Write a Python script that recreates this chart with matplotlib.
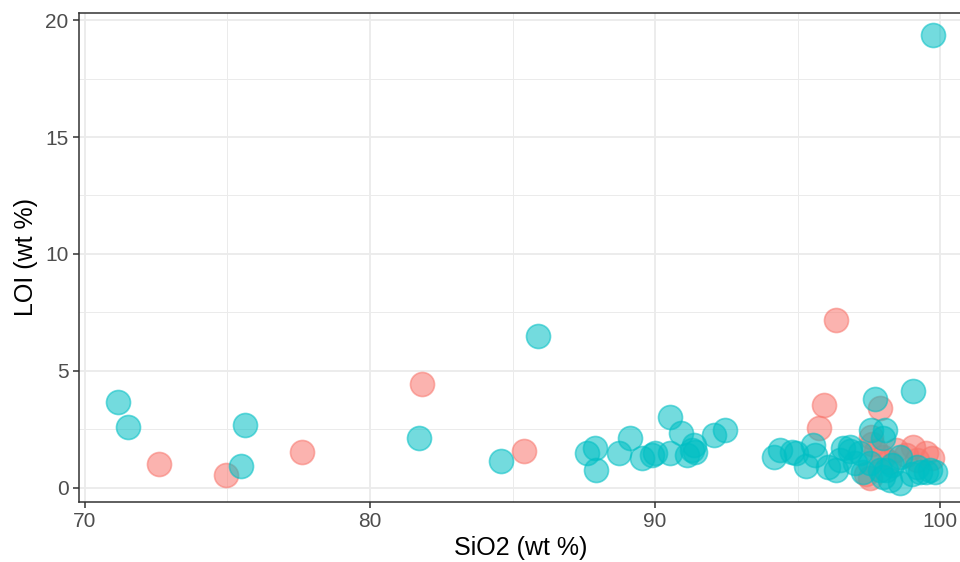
import matplotlib.pyplot as plt
import numpy as np

plt.rcParams['font.family'] = ['Liberation Sans', 'DejaVu Sans']

# grupo 1 (vermelho)
x_red = [72.6, 74.93, 77.6, 81.83, 85.42, 96.34, 95.92, 95.75, 97.89, 97.57,
         97.54, 98.45, 99.05, 99.51, 97.99, 97.75, 99.7, 98.8, 97.4, 98.2,
         99.2, 97.6]
y_red = [1.03, 0.56, 1.54, 4.44, 1.58, 7.18, 3.55, 2.56, 3.42, 2.18,
         0.43, 1.62, 1.75, 1.5, 1.32, 1.6, 1.3, 1.4, 0.6, 1.1,
         1.2, 1.9]

# grupo 2 (ciano)
x_cyan = [99.75, 85.88, 71.16, 71.51, 75.63, 75.46, 81.73, 84.58, 99.05, 97.71,
          90.53, 87.6, 87.89, 87.92, 88.73, 89.12, 89.54, 89.9, 90.0, 90.53,
          90.92, 91.13, 91.3, 91.41, 91.37, 92.08, 92.46, 94.19, 94.4, 94.82,
          94.93, 95.53, 95.63, 95.28, 96.06, 96.34, 96.58, 96.83, 97.0, 97.29,
          97.57, 98.06, 97.99, 98.1, 98.24, 98.59, 98.59, 99.3, 99.65, 99.82,
          99.2, 96.83, 97.54, 97.89, 97.99, 96.5, 97.2, 98.3, 99.0, 99.5]
y_cyan = [19.36, 6.5, 3.68, 2.6, 2.7, 0.94, 2.14, 1.15, 4.15, 3.8,
          3.03, 1.5, 1.7, 0.77, 1.5, 2.14, 1.28, 1.41, 1.5, 1.5,
          2.35, 1.41, 1.62, 1.54, 1.84, 2.26, 2.48, 1.32, 1.62, 1.54,
          1.5, 1.84, 1.41, 0.94, 0.9, 0.77, 1.7, 1.75, 1.07, 0.68,
          2.48, 2.48, 2.14, 0.77, 0.34, 0.21, 1.32, 0.68, 0.77, 0.68,
          0.9, 1.6, 1.07, 0.77, 0.47, 1.2, 1.5, 1.0, 0.6, 0.7]

fig = plt.figure(figsize=(9.6, 5.62), dpi=100)
ax = fig.add_axes([79 / 960, 1 - 502 / 562, 883 / 960, 489 / 562])

ax.scatter(x_red, y_red, s=300, color='#F8766D', alpha=0.55, edgecolors='#F8766D',
           linewidths=1.2, zorder=3)
ax.scatter(x_cyan, y_cyan, s=300, color='#00BFC4', alpha=0.55, edgecolors='#00BFC4',
           linewidths=1.2, zorder=3)

ax.set_xlim(69.79, 100.77)
ax.set_ylim(-0.6, 20.3)
ax.set_xticks([70, 80, 90, 100])
ax.set_yticks([0, 5, 10, 15, 20])
ax.set_xticks([75, 85, 95], minor=True)
ax.set_yticks([2.5, 7.5, 12.5, 17.5], minor=True)
ax.grid(which='major', color='#EBEBEB', linewidth=1.3, zorder=0)
ax.grid(which='minor', color='#EBEBEB', linewidth=0.7, zorder=0)
ax.set_axisbelow(True)
ax.tick_params(which='minor', length=0)
ax.tick_params(which='major', length=4, width=1.1, color='#333333',
               labelsize=15, labelcolor='#4D4D4D')
for sp in ax.spines.values():
    sp.set_color('#333333')
    sp.set_linewidth(1.1)

ax.set_xlabel('SiO2 (wt %)', fontsize=18, labelpad=3)
ax.set_ylabel('LOI (wt %)', fontsize=18, labelpad=5)

fig.savefig('out.png', dpi=100)
